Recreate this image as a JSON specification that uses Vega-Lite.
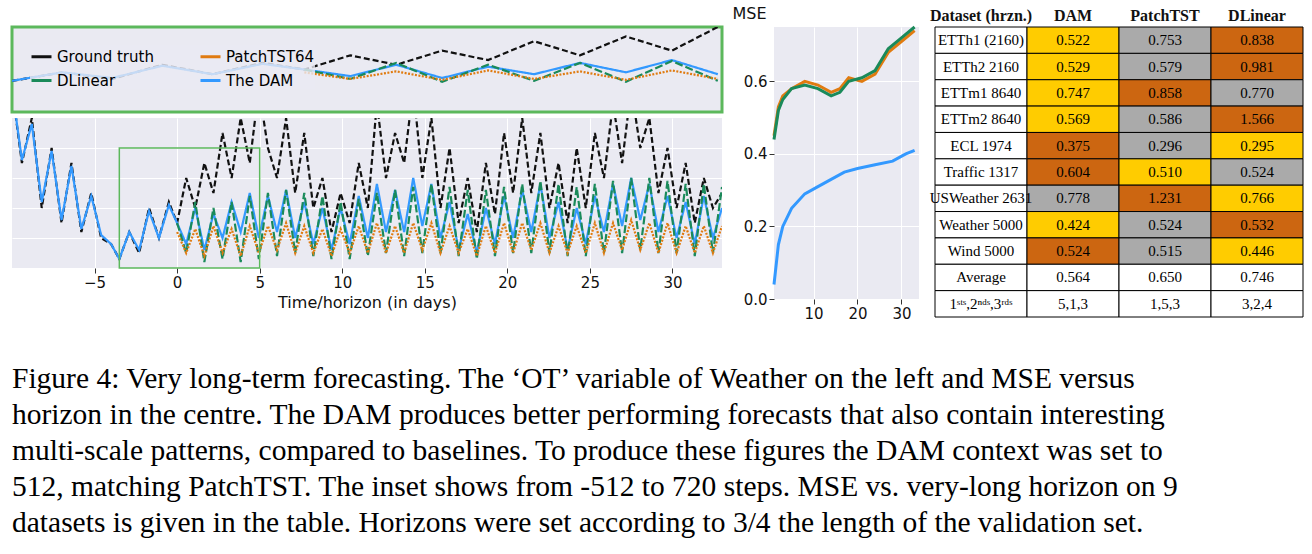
{
"$schema":"https://vega.github.io/schema/vega-lite/v6.json",
"background":"white",
"padding":{"left":10,"top":5,"right":5,"bottom":5},
"config":{"font":"DejaVu Sans","axis":{"gridColor":"white","domain":false,"tickColor":"#333","labelFontSize":15,"titleFontSize":16,"titleFontWeight":"normal","labelColor":"#111","titleColor":"#111"},"view":{"fill":"#eaeaf2","stroke":null},"concat":{"spacing":8}},
"datasets":{
"ts":[
{"t":-10,"g":0.6,"m":0.6},{"t":-9.4,"g":0.35,"m":0.36},{"t":-8.8,"g":0.5,"m":0.48},{"t":-8.2,"g":0.2,"m":0.22},{"t":-7.6,"g":0.4,"m":0.39},{"t":-7,"g":0.15,"m":0.16},{"t":-6.4,"g":0.35,"m":0.34},{"t":-5.8,"g":0.12,"m":0.13},{"t":-5.2,"g":0.25,"m":0.24},{"t":-4.6,"g":0.1,"m":0.11},{"t":-4,"g":0.08,"m":0.08},{"t":-3.5,"g":0.03,"m":0.03},{"t":-2.9,"g":0.12,"m":0.12},{"t":-2.3,"g":0.05,"m":0.06},{"t":-1.7,"g":0.2,"m":0.19},{"t":-1.1,"g":0.1,"m":0.1},{"t":-0.5,"g":0.22,"m":0.21},
{"t":0,"g":0.15,"d":0.15,"p":0.12,"m":0.15},{"t":0.55,"g":0.3,"d":0.05,"p":0.05,"m":0.08},{"t":1.1,"g":0.2,"d":0.22,"p":0.13,"m":0.2},{"t":1.65,"g":0.35,"d":0.02,"p":0.04,"m":0.06},{"t":2.2,"g":0.25,"d":0.2,"p":0.14,"m":0.18},{"t":2.75,"g":0.45,"d":0.03,"p":0.05,"m":0.1},{"t":3.3,"g":0.3,"d":0.22,"p":0.13,"m":0.22},{"t":3.85,"g":0.5,"d":0.02,"p":0.04,"m":0.12},{"t":4.4,"g":0.35,"d":0.24,"p":0.14,"m":0.25},{"t":4.95,"g":0.6,"d":0.03,"p":0.05,"m":0.1},
{"t":5.5,"g":0.4,"d":0.25,"p":0.14,"m":0.24},{"t":6.05,"g":0.3,"d":0.04,"p":0.06,"m":0.12},{"t":6.6,"g":0.5,"d":0.26,"p":0.15,"m":0.26},{"t":7.15,"g":0.25,"d":0.05,"p":0.05,"m":0.1},{"t":7.7,"g":0.45,"d":0.25,"p":0.14,"m":0.22},{"t":8.25,"g":0.2,"d":0.04,"p":0.05,"m":0.08},{"t":8.8,"g":0.3,"d":0.24,"p":0.13,"m":0.2},{"t":9.35,"g":0.12,"d":0.03,"p":0.04,"m":0.06},{"t":9.9,"g":0.25,"d":0.22,"p":0.13,"m":0.2},{"t":10.45,"g":0.15,"d":0.03,"p":0.05,"m":0.08},
{"t":11,"g":0.35,"d":0.23,"p":0.14,"m":0.24},{"t":11.55,"g":0.2,"d":0.04,"p":0.05,"m":0.1},{"t":12.1,"g":0.55,"d":0.25,"p":0.15,"m":0.28},{"t":12.65,"g":0.3,"d":0.05,"p":0.05,"m":0.12},{"t":13.2,"g":0.45,"d":0.26,"p":0.14,"m":0.26},{"t":13.75,"g":0.35,"d":0.04,"p":0.05,"m":0.12},{"t":14.3,"g":0.6,"d":0.27,"p":0.15,"m":0.3},{"t":14.85,"g":0.3,"d":0.05,"p":0.06,"m":0.14},{"t":15.4,"g":0.5,"d":0.28,"p":0.15,"m":0.28},{"t":15.95,"g":0.2,"d":0.05,"p":0.05,"m":0.1},
{"t":16.5,"g":0.4,"d":0.27,"p":0.14,"m":0.22},{"t":17.05,"g":0.15,"d":0.04,"p":0.05,"m":0.06},{"t":17.6,"g":0.3,"d":0.26,"p":0.13,"m":0.18},{"t":18.15,"g":0.12,"d":0.03,"p":0.04,"m":0.05},{"t":18.7,"g":0.35,"d":0.26,"p":0.14,"m":0.2},{"t":19.25,"g":0.18,"d":0.04,"p":0.05,"m":0.08},{"t":19.8,"g":0.45,"d":0.27,"p":0.15,"m":0.24},{"t":20.35,"g":0.25,"d":0.05,"p":0.05,"m":0.1},{"t":20.9,"g":0.5,"d":0.28,"p":0.15,"m":0.26},{"t":21.45,"g":0.25,"d":0.05,"p":0.06,"m":0.12},
{"t":22,"g":0.45,"d":0.29,"p":0.15,"m":0.28},{"t":22.55,"g":0.2,"d":0.05,"p":0.05,"m":0.1},{"t":23.1,"g":0.35,"d":0.28,"p":0.14,"m":0.22},{"t":23.65,"g":0.15,"d":0.04,"p":0.05,"m":0.06},{"t":24.2,"g":0.4,"d":0.27,"p":0.14,"m":0.2},{"t":24.75,"g":0.2,"d":0.04,"p":0.05,"m":0.08},{"t":25.3,"g":0.45,"d":0.28,"p":0.15,"m":0.24},{"t":25.85,"g":0.3,"d":0.05,"p":0.05,"m":0.12},{"t":26.4,"g":0.55,"d":0.29,"p":0.15,"m":0.28},{"t":26.95,"g":0.35,"d":0.05,"p":0.06,"m":0.14},
{"t":27.5,"g":0.6,"d":0.3,"p":0.16,"m":0.3},{"t":28.05,"g":0.4,"d":0.06,"p":0.06,"m":0.16},{"t":28.6,"g":0.5,"d":0.3,"p":0.15,"m":0.28},{"t":29.15,"g":0.25,"d":0.05,"p":0.05,"m":0.12},{"t":29.7,"g":0.4,"d":0.29,"p":0.15,"m":0.24},{"t":30.25,"g":0.2,"d":0.05,"p":0.05,"m":0.1},{"t":30.8,"g":0.35,"d":0.28,"p":0.14,"m":0.22},{"t":31.35,"g":0.15,"d":0.04,"p":0.05,"m":0.08},{"t":31.9,"g":0.3,"d":0.28,"p":0.14,"m":0.24},{"t":32.45,"g":0.2,"d":0.05,"p":0.05,"m":0.1},{"t":33,"g":0.25,"d":0.27,"p":0.14,"m":0.2}
],
"mse":[
{"h":1,"s":"p","v":0.45},{"h":2,"s":"p","v":0.53},{"h":3,"s":"p","v":0.56},{"h":5,"s":"p","v":0.58},{"h":8,"s":"p","v":0.6},{"h":11,"s":"p","v":0.59},{"h":14,"s":"p","v":0.57},{"h":16,"s":"p","v":0.58},{"h":18,"s":"p","v":0.61},{"h":21,"s":"p","v":0.6},{"h":24,"s":"p","v":0.62},{"h":27,"s":"p","v":0.68},{"h":30,"s":"p","v":0.71},{"h":33,"s":"p","v":0.74},
{"h":1,"s":"d","v":0.44},{"h":2,"s":"d","v":0.52},{"h":3,"s":"d","v":0.55},{"h":5,"s":"d","v":0.58},{"h":8,"s":"d","v":0.59},{"h":11,"s":"d","v":0.58},{"h":14,"s":"d","v":0.56},{"h":16,"s":"d","v":0.57},{"h":18,"s":"d","v":0.6},{"h":21,"s":"d","v":0.61},{"h":24,"s":"d","v":0.63},{"h":27,"s":"d","v":0.69},{"h":30,"s":"d","v":0.72},{"h":33,"s":"d","v":0.75},
{"h":1,"s":"m","v":0.04},{"h":2,"s":"m","v":0.15},{"h":3,"s":"m","v":0.2},{"h":5,"s":"m","v":0.25},{"h":8,"s":"m","v":0.29},{"h":11,"s":"m","v":0.31},{"h":14,"s":"m","v":0.33},{"h":17,"s":"m","v":0.35},{"h":20,"s":"m","v":0.36},{"h":24,"s":"m","v":0.37},{"h":28,"s":"m","v":0.38},{"h":31,"s":"m","v":0.4},{"h":33,"s":"m","v":0.41}
],
"box":[{"x0":-3.5,"x1":5,"y0":0,"y1":0.4}],
"tab":[
{"r":"ETTh1 (2160)","c":"Dataset (hrzn.)","v":"ETTh1 (2160)","k":0},{"r":"ETTh1 (2160)","c":"DAM","v":"0.522","k":1},{"r":"ETTh1 (2160)","c":"PatchTST","v":"0.753","k":2},{"r":"ETTh1 (2160)","c":"DLinear","v":"0.838","k":3},
{"r":"ETTh2 2160","c":"Dataset (hrzn.)","v":"ETTh2 2160","k":0},{"r":"ETTh2 2160","c":"DAM","v":"0.529","k":1},{"r":"ETTh2 2160","c":"PatchTST","v":"0.579","k":2},{"r":"ETTh2 2160","c":"DLinear","v":"0.981","k":3},
{"r":"ETTm1 8640","c":"Dataset (hrzn.)","v":"ETTm1 8640","k":0},{"r":"ETTm1 8640","c":"DAM","v":"0.747","k":1},{"r":"ETTm1 8640","c":"PatchTST","v":"0.858","k":3},{"r":"ETTm1 8640","c":"DLinear","v":"0.770","k":2},
{"r":"ETTm2 8640","c":"Dataset (hrzn.)","v":"ETTm2 8640","k":0},{"r":"ETTm2 8640","c":"DAM","v":"0.569","k":1},{"r":"ETTm2 8640","c":"PatchTST","v":"0.586","k":2},{"r":"ETTm2 8640","c":"DLinear","v":"1.566","k":3},
{"r":"ECL 1974","c":"Dataset (hrzn.)","v":"ECL 1974","k":0},{"r":"ECL 1974","c":"DAM","v":"0.375","k":3},{"r":"ECL 1974","c":"PatchTST","v":"0.296","k":2},{"r":"ECL 1974","c":"DLinear","v":"0.295","k":1},
{"r":"Traffic 1317","c":"Dataset (hrzn.)","v":"Traffic 1317","k":0},{"r":"Traffic 1317","c":"DAM","v":"0.604","k":3},{"r":"Traffic 1317","c":"PatchTST","v":"0.510","k":1},{"r":"Traffic 1317","c":"DLinear","v":"0.524","k":2},
{"r":"USWeather 2631","c":"Dataset (hrzn.)","v":"USWeather 2631","k":0},{"r":"USWeather 2631","c":"DAM","v":"0.778","k":2},{"r":"USWeather 2631","c":"PatchTST","v":"1.231","k":3},{"r":"USWeather 2631","c":"DLinear","v":"0.766","k":1},
{"r":"Weather 5000","c":"Dataset (hrzn.)","v":"Weather 5000","k":0},{"r":"Weather 5000","c":"DAM","v":"0.424","k":1},{"r":"Weather 5000","c":"PatchTST","v":"0.524","k":2},{"r":"Weather 5000","c":"DLinear","v":"0.532","k":3},
{"r":"Wind 5000","c":"Dataset (hrzn.)","v":"Wind 5000","k":0},{"r":"Wind 5000","c":"DAM","v":"0.524","k":3},{"r":"Wind 5000","c":"PatchTST","v":"0.515","k":2},{"r":"Wind 5000","c":"DLinear","v":"0.446","k":1},
{"r":"Average","c":"Dataset (hrzn.)","v":"Average","k":0},{"r":"Average","c":"DAM","v":"0.564","k":0},{"r":"Average","c":"PatchTST","v":"0.650","k":0},{"r":"Average","c":"DLinear","v":"0.746","k":0},
{"r":"1sts,2nds,3rds","c":"Dataset (hrzn.)","v":"1ˢᵗˢ,2ⁿᵈˢ,3ʳᵈˢ","k":0},{"r":"1sts,2nds,3rds","c":"DAM","v":"5,1,3","k":0},{"r":"1sts,2nds,3rds","c":"PatchTST","v":"1,5,3","k":0},{"r":"1sts,2nds,3rds","c":"DLinear","v":"3,2,4","k":0}
],
"cap":[
{"i":1,"x":0,"line":"Figure 4: Very long-term forecasting. The ‘OT’ variable of Weather on the left and MSE versus"},
{"i":2,"x":0,"line":"horizon in the centre. The DAM produces better performing forecasts that also contain interesting"},
{"i":3,"x":0,"line":"multi-scale patterns, compared to baselines. To produce these figures the DAM context was set to"},
{"i":4,"x":0,"line":"512, matching PatchTST. The inset shows from -512 to 720 steps. MSE vs. very-long horizon on 9"},
{"i":5,"x":0,"line":"datasets is given in the table. Horizons were set according to 3/4 the length of the validation set."}
]},
"vconcat":[
{"hconcat":[
 {"spacing":4,"vconcat":[
  {"width":710,"height":85,"view":{"stroke":"#5cb85c","strokeWidth":3,"fill":"#eaeaf2"},
   "data":{"name":"ts"},
   "transform":[{"fold":["g","d","p","m"],"as":["s","v"]},{"filter":"datum.v != null && datum.t >= -3.5 && datum.t <= 5"}],
   "mark":{"type":"line","strokeWidth":2.2,"clip":true},
   "encoding":{"x":{"field":"t","type":"quantitative","scale":{"domain":[-3.5,5],"nice":false},"axis":null},
    "y":{"field":"v","type":"quantitative","scale":{"domain":[-0.3,0.6]},"axis":null},
    "color":{"field":"s","type":"nominal","scale":{"domain":["g","d","p","m"],"range":["#111111","#1a8a5a","#e07b10","#3399ff"]},
      "legend":{"orient":"top-left","columns":2,"title":null,"labelFontSize":15,"symbolStrokeWidth":3,"symbolSize":400,"fillColor":"rgba(234,234,242,0.8)","labelExpr":"datum.value=='g'?'Ground truth':datum.value=='p'?'PatchTST64':datum.value=='d'?'DLinear':'The DAM'","columnPadding":40,"rowPadding":4}},
    "strokeDash":{"field":"s","type":"nominal","scale":{"domain":["g","d","p","m"],"range":[[6,3],[8,3],[2,1.5],[1,0]]},"legend":null}}},
  {"width":710,"height":150,
   "layer":[
   {"data":{"name":"ts"},
    "transform":[{"fold":["g","d","p","m"],"as":["s","v"]},{"filter":"datum.v != null"}],
    "mark":{"type":"line","strokeWidth":2.2,"clip":true},
    "encoding":{"x":{"field":"t","type":"quantitative","scale":{"domain":[-10,33],"nice":false},"axis":{"values":[-5,0,5,10,15,20,25,30],"title":"Time/horizon (in days)","grid":true}},
     "y":{"field":"v","type":"quantitative","scale":{"domain":[0,0.5]},"axis":{"labels":false,"ticks":false,"title":null,"values":[0.1,0.2,0.3,0.4],"grid":true}},
     "color":{"field":"s","type":"nominal","scale":{"domain":["g","d","p","m"],"range":["#111111","#1a8a5a","#e07b10","#3399ff"]},"legend":null},
     "strokeDash":{"field":"s","type":"nominal","scale":{"domain":["g","d","p","m"],"range":[[6,3],[8,3],[2,1.5],[1,0]]},"legend":null}}},
   {"data":{"name":"box"},"mark":{"type":"rect","fill":null,"stroke":"#5cb85c","strokeWidth":1.5},
    "encoding":{"x":{"field":"x0","type":"quantitative"},"x2":{"field":"x1"},"y":{"field":"y0","type":"quantitative"},"y2":{"field":"y1"}}}
   ]}
 ]},
 {"width":145,"height":272,"data":{"name":"mse"},
  "mark":{"type":"line","strokeWidth":3},
  "encoding":{"x":{"field":"h","type":"quantitative","scale":{"domain":[1,34],"nice":false},"axis":{"values":[10,20,30],"title":null}},
   "y":{"field":"v","type":"quantitative","scale":{"domain":[0,0.75],"nice":false},"axis":{"values":[0,0.2,0.4,0.6],"format":".1f","title":"MSE","titleAngle":0,"titleAlign":"left","titleY":-6,"titleX":-42,"titleFontSize":16}},
   "color":{"field":"s","type":"nominal","scale":{"domain":["p","d","m"],"range":["#e07b10","#1a8a5a","#3399ff"]},"legend":null}}},
 {"width":368,"height":290,"view":{"fill":"white","stroke":null},"data":{"name":"tab"},
  "encoding":{"x":{"field":"c","type":"nominal","sort":["Dataset (hrzn.)","DAM","PatchTST","DLinear"],"scale":{"paddingInner":0,"paddingOuter":0},"axis":{"orient":"top","title":null,"labelAngle":0,"ticks":false,"labelFont":"Liberation Serif","labelFontWeight":"bold","labelFontSize":16,"labelPadding":4,"grid":false}},
   "y":{"field":"r","type":"nominal","sort":null,"scale":{"paddingInner":0,"paddingOuter":0},"axis":null}},
  "layer":[
   {"mark":{"type":"rect","stroke":"black","strokeWidth":1},
    "encoding":{"fill":{"field":"k","type":"ordinal","scale":{"domain":[0,1,2,3],"range":["#ffffff","#ffcc00","#aaaaaa","#cc6611"]},"legend":null}}},
   {"mark":{"type":"text","font":"Liberation Serif","fontSize":15,"color":"black"},"encoding":{"text":{"field":"v"}}}
  ]}
]},
{"width":1290,"height":180,"view":{"fill":"white","stroke":null},"data":{"name":"cap"},
 "mark":{"type":"text","align":"left","font":"Liberation Serif","fontSize":29.5,"color":"black"},
 "encoding":{"x":{"field":"x","type":"quantitative","scale":{"domain":[0,1]},"axis":null},
  "y":{"field":"i","type":"ordinal","axis":null},"text":{"field":"line"}}}
],
"spacing":40
}
